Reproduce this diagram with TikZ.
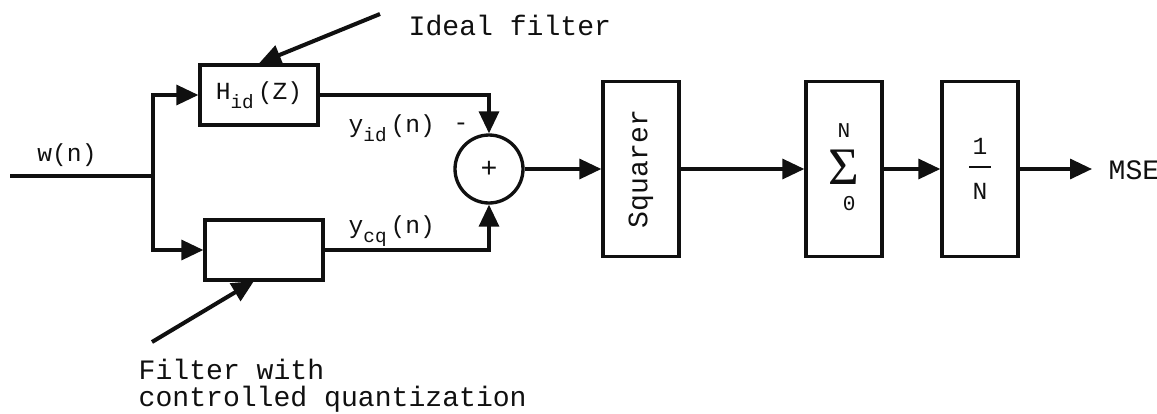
\documentclass[tikz,border=0pt]{standalone}
\usepackage{fontspec}
\setmainfont{Liberation Mono}
\newfontfamily\sigmafont{Liberation Serif}
\usetikzlibrary{arrows.meta}

\definecolor{ScanInk}{HTML}{101010}
\newcommand{\lowsub}[1]{\raisebox{-0.7ex}{\fontsize{11}{12}\selectfont #1}}

\begin{document}
\begin{tikzpicture}[x=0.02cm,y=-0.02cm,line width=1.9pt,ScanInk,
    >={Triangle[length=0.44cm,width=0.4cm]},
    blockbox/.style={draw,inner sep=0pt,minimum width=2.36cm,minimum height=1.2cm,
      font=\fontsize{14}{16}\selectfont},
    tallbox/.style={draw,inner sep=0pt,minimum width=1.52cm,minimum height=3.5cm,
      align=center},
    lbl/.style={font=\fontsize{14}{16}\selectfont,inner sep=0pt},
    note/.style={font=\fontsize{16}{15.5}\selectfont,inner sep=0pt,align=left}]
  \useasboundingbox (0,0) rectangle (1157,413);
  % input and the two filters
  \coordinate (in) at (10,176);
  \coordinate (split) at (153,176);
  \node[blockbox] (hid) at (259,95) {H\lowsub{id}\,(Z)};
  \node[blockbox] (hcq) at (264,250) {};
  \node[lbl] (wn) at (67,155) {w(n)};
  \draw (in) -- (split);
  \draw[->] (split) |- (hid.west);
  \draw[->] (split) |- (hcq.west);
  % adder
  \node[draw,circle,minimum size=1.36cm,inner sep=0pt,font=\fontsize{16}{16}\selectfont] (add) at (489,169) {+};
  \draw[->] (hid.east) -| (add.north);
  \draw[->] (hcq.east) -| (add.south);
  \node[lbl,anchor=west] (yid) at (347,128) {y\lowsub{id}\,(n)};
  \node[lbl] (minus) at (461,127) {-};
  \node[lbl,anchor=west] (ycq) at (347,231) {y\lowsub{cq}\,(n)};
  % squarer, sum, scaling
  \node[tallbox,font=\fontsize{16}{18}\selectfont] (sqr) at (641,169)
    {\rotatebox{90}{Squarer}};
  \node[tallbox,font=\fontsize{12}{14}\selectfont] (sum) at (844,169)
    {\begin{tabular}{@{}c@{}}
       N\\[3pt]
       {\sigmafont\fontsize{30}{30}\selectfont Σ}\\[1pt]
       \hspace{6pt}0
     \end{tabular}};
  \node[tallbox,font=\fontsize{14}{16}\selectfont] (inv) at (980,169)
    {1\\[-8pt]\rule{0.44cm}{1.2pt}\\[2pt]N};
  \draw[->] (add.east) -- (sqr.west);
  \draw[->] (sqr.east) -- (sum.west);
  \draw[->] (sum.east) -- (inv.west);
  \coordinate (out) at (1092,169);
  \draw[->] (inv.east) -- (out);
  \node[note,anchor=west] (mse) at (1107,170) {MSE};
  % pointers to the filters
  \coordinate (idtail) at (380,14);
  \draw[->,line width=2.3pt] (idtail) -- (hid.north);
  \node[note,anchor=west] (idtext) at (407,25) {Ideal filter};
  \coordinate (cqtail) at (152,342);
  \coordinate (cqtip) at (254,281);
  \draw[->,line width=2.3pt] (cqtail) -- (cqtip);
  \node[note,anchor=north west] (cqtext) at (137,357) {Filter with\\controlled quantization};
\end{tikzpicture}
\end{document}
